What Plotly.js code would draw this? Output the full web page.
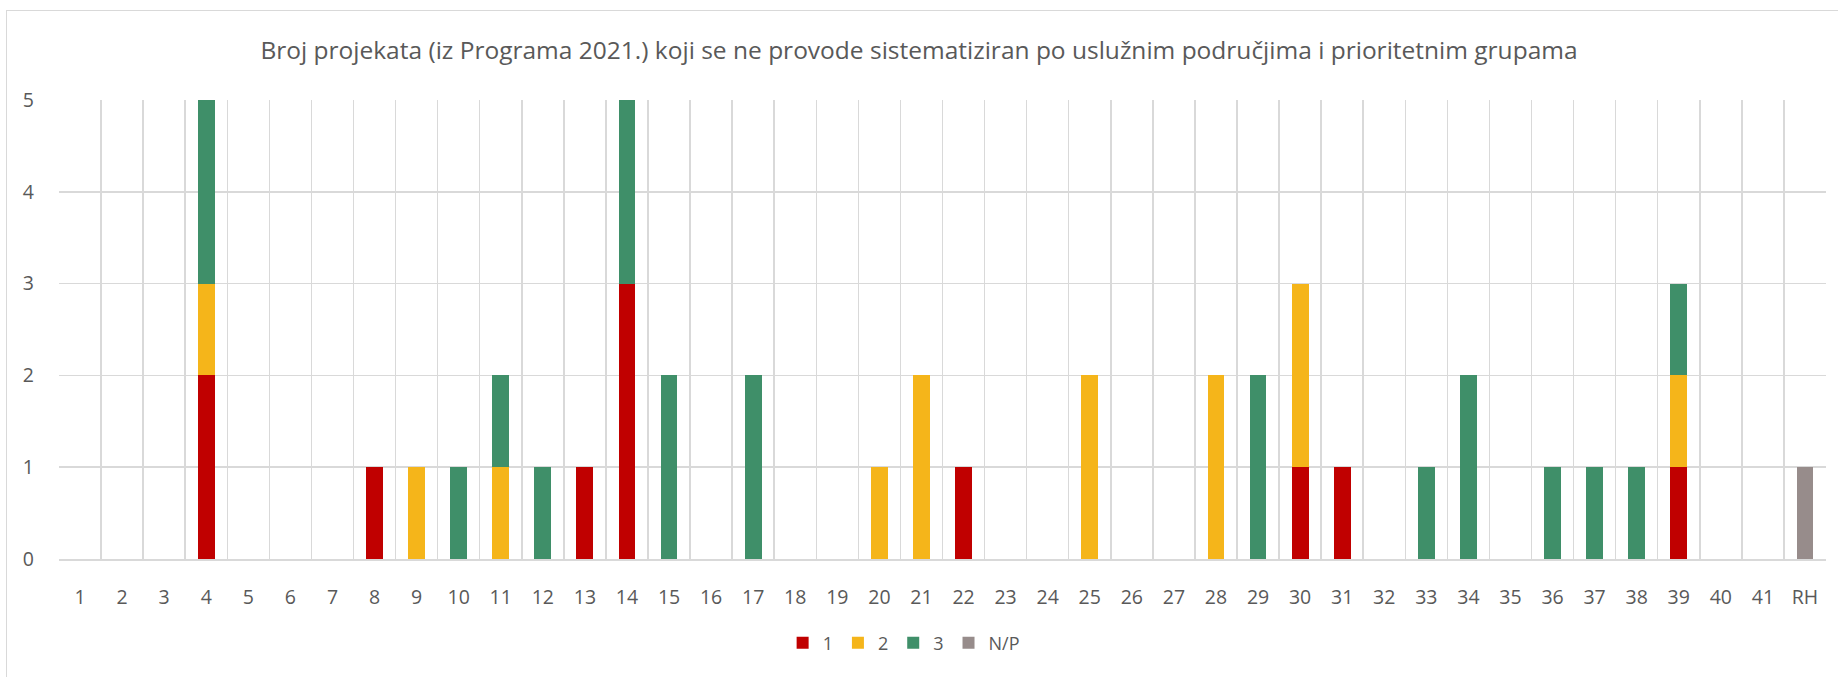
<!DOCTYPE html>
<html>
<head>
<meta charset="utf-8">
<script src="https://cdn.plot.ly/plotly-3.0.1.min.js"></script>
<style>
  html, body { margin: 0; padding: 0; background: #ffffff; }
  #wrap { position: relative; width: 1838px; height: 677px; }
  #chart { width: 1838px; height: 677px; }
  #frame { position: absolute; left: 6px; top: 10px; width: 1840px; height: 700px;
           border-top: 1.5px solid #d9d9d9; border-left: 1.5px solid #d9d9d9; pointer-events: none; }
</style>
</head>
<body>
<div id="wrap">
  <div id="chart"></div>
  <div id="frame"></div>
</div>
<script>
const categories = ["1","2","3","4","5","6","7","8","9","10","11","12","13","14","15","16","17","18","19","20",
  "21","22","23","24","25","26","27","28","29","30","31","32","33","34","35","36","37","38","39","40","41","RH"];

const group1 = [0,0,0,2,0,0,0,1,0,0,0,0,1,3,0,0,0,0,0,0, 0,1,0,0,0,0,0,0,0,1,1,0,0,0,0,0,0,0,1,0,0,0];
const group2 = [0,0,0,1,0,0,0,0,1,0,1,0,0,0,0,0,0,0,0,1, 2,0,0,0,2,0,0,2,0,2,0,0,0,0,0,0,0,0,1,0,0,0];
const group3 = [0,0,0,2,0,0,0,0,0,1,1,1,0,2,2,0,2,0,0,0, 0,0,0,0,0,0,0,0,2,0,0,0,1,2,0,1,1,1,1,0,0,0];
const groupNP = [0,0,0,0,0,0,0,0,0,0,0,0,0,0,0,0,0,0,0,0, 0,0,0,0,0,0,0,0,0,0,0,0,0,0,0,0,0,0,0,0,0,1];

const seriesNames = ["1", "2", "3", "N/P"];
const seriesColors = ["#C00000", "#F5B51A", "#3F8F69", "#978C8B"];
const seriesValues = [group1, group2, group3, groupNP];

const traces = seriesValues.map((vals, i) => ({
  type: "bar",
  name: seriesNames[i],
  x: categories,
  y: vals,
  marker: { color: seriesColors[i], line: { width: 0 } },
  hoverinfo: "x+y+name"
}));

const layout = {
  width: 1838,
  height: 677,
  barmode: "stack",
  bargap: 0.6,
  paper_bgcolor: "#ffffff",
  plot_bgcolor: "#ffffff",
  margin: { l: 59, r: 12, t: 100, b: 118 },
  font: { family: "Open Sans, Liberation Sans, sans-serif", color: "#595959", size: 19 },
  title: {
    text: "Broj projekata (iz Programa 2021.) koji se ne provode sistematiziran po uslužnim područjima i prioritetnim grupama",
    font: { size: 24.5, color: "#595959", family: "Open Sans, sans-serif" },
    x: 0.5, xanchor: "center",
    y: 1 - 50 / 677, yref: "container", yanchor: "middle"
  },
  xaxis: {
    type: "category",
    tickson: "boundaries",
    showgrid: true,
    gridcolor: "#d9d9d9",
    gridwidth: 1.5,
    ticks: "",
    showline: true,
    linecolor: "#d9d9d9",
    linewidth: 1.5,
    ticklabelstandoff: 20,
    tickfont: { size: 19.5, color: "#595959" },
    fixedrange: true
  },
  yaxis: {
    range: [0, 5],
    tickvals: [0, 1, 2, 3, 4, 5],
    showgrid: true,
    gridcolor: "#d9d9d9",
    gridwidth: 1.5,
    zeroline: false,
    showline: false,
    ticks: "",
    ticklabelstandoff: 24,
    tickfont: { size: 19.5, color: "#595959" },
    fixedrange: true
  },
  showlegend: true,
  legend: {
    orientation: "h",
    x: 0.478, xanchor: "center",
    y: (559 - 643) / 459, yanchor: "middle",
    font: { size: 18, color: "#595959" },
    itemwidth: 30,
    traceorder: "normal"
  }
};

Plotly.newPlot("chart", traces, layout, { displayModeBar: false, staticPlot: true });
</script>
</body>
</html>
